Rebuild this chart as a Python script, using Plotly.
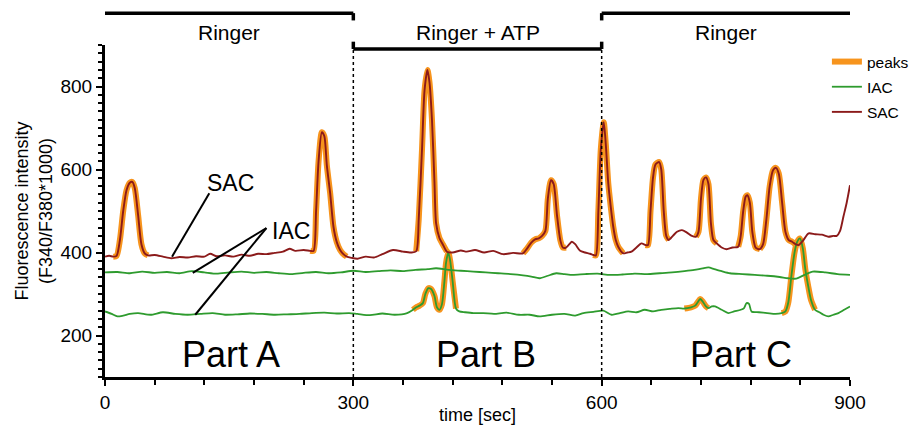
import plotly.graph_objects as go

# ---------------- data ----------------
sac_trace = [
    (0, 390), (5, 392), (10, 390), (14, 392), (18, 430), (22, 500), (26, 550), (30, 568), (33, 570),
    (36, 555), (40, 490), (44, 420), (48, 398), (52, 393), (60, 394), (70, 390), (80, 386), (90, 389),
    (100, 388), (110, 391), (120, 390), (127, 397), (135, 391), (145, 393), (155, 390), (165, 395),
    (175, 392), (185, 397), (195, 396), (205, 399), (215, 402), (223, 409), (230, 404), (240, 406),
    (248, 404), (252, 404), (255, 500), (258, 620), (262, 690), (265, 680), (268, 610), (272, 543),
    (276, 462), (280, 425), (284, 406), (288, 396), (292, 390), (298, 387), (305, 385), (315, 390),
    (325, 388), (335, 396), (348, 406), (360, 402), (370, 400), (376, 403), (379, 480), (383, 650),
    (386, 790), (389.5, 840), (392, 810), (395, 720), (398, 570), (400, 470), (404, 435), (408, 420),
    (413, 402), (420, 400), (430, 405), (437, 402), (447, 406), (458, 400), (469, 404), (481, 396),
    (493, 399), (505, 398), (510, 410), (515, 424), (520, 432), (524, 434), (528, 440), (532, 452),
    (535, 530), (538.8, 574), (542, 565), (546, 490), (550, 430), (553, 412), (557, 412), (561, 420),
    (564, 426), (568, 420), (574, 404), (580, 400), (586, 397), (590, 394), (593, 393), (596, 500),
    (599, 650), (602.5, 714), (605, 660), (608, 566), (611, 510), (614, 462), (617, 430), (620, 414),
    (626, 398), (631, 400), (636, 402), (642, 412), (648, 422), (653, 418), (656, 418), (659, 500),
    (662, 580), (665, 612), (669.5, 618), (672, 600), (675, 500), (678, 440), (681, 430), (686, 440),
    (691, 450), (697, 454), (703, 448), (709, 440), (714, 438), (717, 450), (720, 530), (723, 575),
    (726, 581), (729, 565), (732, 470), (735, 430), (739, 422), (745, 412), (751, 408), (758, 412),
    (765, 414), (768, 440), (771, 500), (774, 535), (776, 538), (779, 520), (782, 450), (786, 412),
    (791, 408), (795, 420), (799, 480), (803, 560), (807, 598), (810.5, 604), (814, 590), (818, 520),
    (822, 450), (826, 430), (830, 426), (834, 420), (838, 418), (843, 428), (850, 446), (858, 444),
    (866, 443), (874, 438), (880, 440), (884, 440), (888, 452), (892, 486), (896, 520), (900, 562),
]

iac_upper_trace = [
    (0, 352), (15, 353), (30, 350), (45, 354), (60, 351), (75, 353), (90, 350), (105, 355), (120, 352),
    (135, 349), (150, 352), (165, 354), (180, 351), (195, 353), (210, 350), (225, 348), (240, 351),
    (255, 353), (270, 350), (285, 352), (300, 356), (315, 353), (330, 355), (345, 357), (360, 355),
    (375, 358), (390, 360), (400, 362), (415, 358), (430, 356), (445, 354), (460, 352), (475, 350),
    (490, 348), (505, 345), (515, 342), (525, 338), (535, 344), (545, 350), (555, 348), (565, 346),
    (580, 348), (595, 349), (610, 346), (625, 347), (640, 349), (655, 348), (670, 350), (685, 352),
    (700, 355), (712, 358), (722, 362), (729, 364), (736, 360), (745, 355), (755, 350), (770, 348),
    (785, 346), (800, 344), (815, 341), (825, 338), (835, 337), (845, 346), (855, 354), (870, 352),
    (885, 348), (900, 346),
]

iac_lower_trace = [
    (0, 258), (8, 252), (15, 246), (22, 248), (30, 252), (40, 254), (55, 250), (70, 256), (85, 252),
    (100, 250), (115, 252), (130, 254), (145, 250), (160, 251), (175, 253), (190, 252), (205, 250),
    (220, 251), (235, 252), (250, 254), (265, 255), (280, 253), (295, 254), (305, 252), (320, 249),
    (335, 253), (350, 250), (365, 254), (372, 262), (376, 268), (380, 272), (384, 278), (387, 300),
    (390.6, 314), (394, 312), (398, 295), (401, 268), (404, 262), (407, 275), (410, 330), (412, 375),
    (414.7, 400), (417, 380), (420, 330), (424, 265), (428, 258), (435, 256), (445, 254), (457, 254),
    (470, 252), (485, 255), (500, 250), (513, 250), (525, 246), (540, 250), (555, 252), (568, 248),
    (578, 254), (590, 257), (602, 260), (612, 250), (622, 254), (632, 258), (642, 256), (652, 262),
    (662, 258), (672, 262), (682, 264), (692.6, 266), (700, 265), (708, 268), (713, 272), (716, 280),
    (719, 288), (722, 282), (726, 270), (729, 266), (733, 270), (737, 270), (745, 262), (753, 254),
    (760, 258), (768, 262), (772, 266), (775, 278), (778, 276), (781, 258), (790, 256), (800, 254),
    (810, 252), (817.5, 254), (822, 258), (825.5, 280), (829, 340), (833, 400), (836, 425),
    (839.6, 434), (843, 410), (846, 360), (849.6, 318), (853, 285), (857.7, 262), (863, 256),
    (868, 250), (873.8, 246), (880, 250), (886, 254), (893, 262), (900, 270),
]

# time windows marked as "peaks" on each trace
sac_peak_windows = [(10, 52), (248, 292), (376, 413), (505, 557), (590, 626),
                    (653, 681), (714, 739), (765, 791), (791, 838)]
iac_peak_windows = [(372, 426), (700, 729), (817, 858)]

phase_labels = ["Ringer", "Ringer + ATP", "Ringer"]
phase_bounds = [0, 300, 600, 900]
part_labels = ["Part A", "Part B", "Part C"]

x_ticks = [0, 300, 600, 900]
y_ticks = [200, 400, 600, 800]

# ---------------- helpers ----------------
def split(trace):
    return [p[0] for p in trace], [p[1] for p in trace]


def peak_segments(trace, windows):
    xs, ys = [], []
    for a, b in windows:
        for t, v in trace:
            if a <= t <= b:
                xs.append(t)
                ys.append(v)
        xs.append(None)
        ys.append(None)
    return xs, ys


ORANGE = "#F7941D"
GREEN = "#2E9B2E"
RED = "#8B1A1A"
FONT = "Liberation Sans, Arial, sans-serif"
SMOOTH = 0.7

fig = go.Figure()

px1, py1 = peak_segments(sac_trace, sac_peak_windows)
px2, py2 = peak_segments(iac_lower_trace, iac_peak_windows)
fig.add_trace(go.Scatter(x=px1 + px2, y=py1 + py2, mode="lines", name="peaks",
                         line=dict(color=ORANGE, width=6, shape="spline", smoothing=SMOOTH),
                         legendgroup="p"))

ux, uy = split(iac_upper_trace)
lx, ly = split(iac_lower_trace)
fig.add_trace(go.Scatter(x=ux, y=uy, mode="lines", name="IAC",
                         line=dict(color=GREEN, width=1.8, shape="spline", smoothing=SMOOTH),
                         legendgroup="i"))
fig.add_trace(go.Scatter(x=lx, y=ly, mode="lines", name="IAC", showlegend=False,
                         line=dict(color=GREEN, width=1.8, shape="spline", smoothing=SMOOTH),
                         legendgroup="i"))
sx, sy = split(sac_trace)
fig.add_trace(go.Scatter(x=sx, y=sy, mode="lines", name="SAC",
                         line=dict(color=RED, width=1.9, shape="spline", smoothing=SMOOTH),
                         legendgroup="s"))

shapes = []
# dotted phase separators
for b in phase_bounds[1:-1]:
    shapes.append(dict(type="line", xref="x", yref="paper", x0=b, x1=b, y0=0, y1=0.99,
                       line=dict(color="black", width=1.5, dash="dot")))

# phase bars above the plot
HIGH, LOW, TICK = 1.096, 0.988, 0.022
for i, lab in enumerate(phase_labels):
    a, b = phase_bounds[i], phase_bounds[i + 1]
    yb = LOW if "ATP" in lab else HIGH
    shapes.append(dict(type="line", xref="x", yref="paper", x0=a, x1=b, y0=yb, y1=yb,
                       line=dict(color="black", width=3.5)))
for b in phase_bounds[1:-1]:
    shapes.append(dict(type="line", xref="x", yref="paper", x0=b, x1=b, y0=HIGH, y1=HIGH - TICK,
                       line=dict(color="black", width=3.5)))
    shapes.append(dict(type="line", xref="x", yref="paper", x0=b, x1=b, y0=LOW, y1=LOW + TICK,
                       line=dict(color="black", width=3.5)))

# pointer lines for SAC / IAC labels
pointer_lines = [((126, 543), (81, 390)), ((195, 459), (106, 351)), ((195, 459), (109, 250))]
for (x0, y0), (x1, y1) in pointer_lines:
    shapes.append(dict(type="line", xref="x", yref="y", x0=x0, y0=y0, x1=x1, y1=y1,
                       line=dict(color="black", width=2)))

annotations = []
for i, lab in enumerate(phase_labels):
    mid = (phase_bounds[i] + phase_bounds[i + 1]) / 2
    annotations.append(dict(text=lab, x=mid, y=1.037, xref="x", yref="paper", showarrow=False,
                            yanchor="middle", xanchor="center",
                            font=dict(family=FONT, size=21, color="black")))
for i, lab in enumerate(part_labels):
    mid = (phase_bounds[i] + phase_bounds[i + 1]) / 2 + [2, 10, 18][i]
    annotations.append(dict(text=lab, x=mid, y=155, xref="x", yref="y", showarrow=False,
                            font=dict(family=FONT, size=36, color="black")))
annotations.append(dict(text="SAC", x=152, y=567, xref="x", yref="y", showarrow=False,
                        font=dict(family=FONT, size=23, color="black")))
annotations.append(dict(text="IAC", x=225, y=452, xref="x", yref="y", showarrow=False,
                        font=dict(family=FONT, size=23, color="black")))
# x-axis title
annotations.append(dict(text="time [sec]", x=0.5, y=-0.113, xref="paper", yref="paper",
                        showarrow=False, xanchor="center", yanchor="middle",
                        font=dict(family=FONT, size=18, color="black")))

fig.update_layout(
    width=912, height=427,
    margin=dict(l=105, r=62, t=45, b=50, autoexpand=False),
    paper_bgcolor="white", plot_bgcolor="white",
    font=dict(family=FONT, color="black"),
    shapes=shapes, annotations=annotations,
    legend=dict(x=0.969, y=1.0, xanchor="left", yanchor="top", bgcolor="rgba(0,0,0,0)",
                font=dict(family=FONT, size=15.5), tracegroupgap=2, traceorder="grouped"),
    xaxis=dict(range=[0, 900], tickvals=x_ticks, showline=True, linecolor="black", linewidth=3,
               ticks="outside", ticklen=6, tickwidth=2, tickcolor="black", automargin=False,
               minor=dict(dtick=60, tick0=0, ticks="outside", ticklen=5, tickwidth=2, tickcolor="black"),
               showgrid=False, zeroline=False, tickfont=dict(size=19)),
    yaxis=dict(range=[100, 900], tickvals=y_ticks, showline=True, linecolor="black", linewidth=3,
               ticks="outside", ticklen=6, tickwidth=2, tickcolor="black", automargin=False,
               minor=dict(dtick=20, tick0=0, ticks="outside", ticklen=4, tickwidth=2, tickcolor="black"),
               showgrid=False, zeroline=False, tickfont=dict(size=19),
               title=dict(text="Fluorescence intensity<br>(F340/F380*1000)", font=dict(size=18), standoff=4)),
)

fig.write_html("out.html", config={"displayModeBar": False},
               post_script="document.body.style.margin='0';")
